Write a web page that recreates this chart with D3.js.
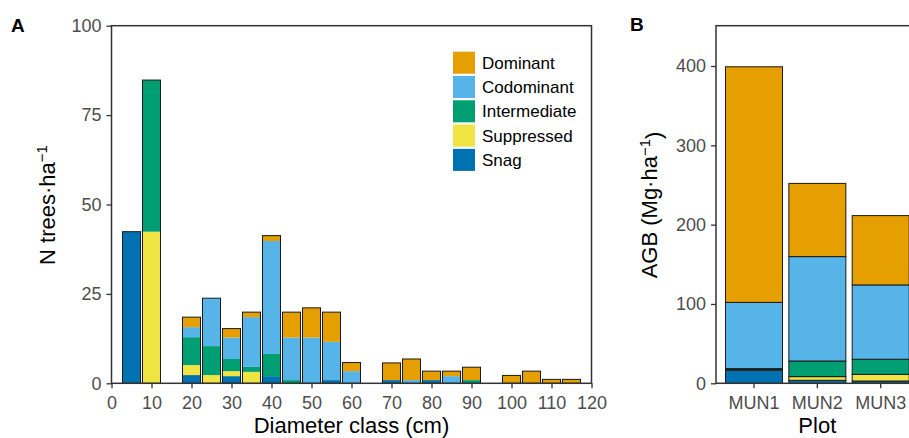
<!DOCTYPE html>
<html>
<head>
<meta charset="utf-8">
<script src="https://cdn.jsdelivr.net/npm/d3@7"></script>
<style>
  body { margin: 0; background: #fff; }
  text { font-family: "Liberation Sans", Arial, Helvetica, sans-serif; }
</style>
</head>
<body>
<div id="chart"></div>
<script>
// canopy classes, drawn bottom to top
var classes = ["Snag", "Suppressed", "Intermediate", "Codominant", "Dominant"];
var colors = ["#0072B2", "#F0E442", "#009E73", "#56B4E9", "#E69F00"];

// panel A: trees per ha by diameter class (cm)
var diam = [5, 10, 20, 25, 30, 35, 40, 45, 50, 55, 60, 70, 75, 80, 85, 90, 100, 105, 110, 115];
var snag = [42.4, 0, 2.3, 0, 2.0, 0, 2.0, 0, 0, 0.9, 0, 0.9, 0, 0.9, 0, 0, 0, 0, 0, 0];
var suppressed = [0, 42.4, 2.8, 2.3, 1.4, 3.2, 0, 0, 0, 0, 0, 0, 0, 0, 0, 0, 0, 0, 0, 0];
var intermediate = [0, 42.4, 7.8, 8.1, 3.4, 1.4, 6.2, 0.9, 0, 0, 0, 0, 0, 0, 0, 0.9, 0, 0, 0, 0];
var codominant = [0, 0, 2.8, 13.4, 6.0, 13.9, 31.6, 11.9, 12.8, 10.7, 3.4, 0, 0.9, 0, 2.0, 0, 0, 0, 0, 0];
var dominant = [0, 0, 2.8, 0, 2.5, 1.4, 1.5, 7.1, 8.3, 8.3, 2.4, 4.8, 5.9, 2.5, 1.4, 3.6, 2.2, 3.4, 1.1, 1.1];
var xTicksA = [0, 10, 20, 30, 40, 50, 60, 70, 80, 90, 100, 110, 120];
var yTicksA = [0, 25, 50, 75, 100];

// panel B: AGB (Mg/ha) per plot
var plots = ["MUN1", "MUN2", "MUN3"];
var agbSnag = [16.5, 3.8, 2.9];
var agbSuppressed = [0.6, 4.6, 8.4];
var agbIntermediate = [1.4, 19.7, 19.0];
var agbCodominant = [83.5, 131.6, 93.7];
var agbDominant = [297, 92.3, 87.4];
var yTicksB = [0, 100, 200, 300, 400];

var seriesA = [snag, suppressed, intermediate, codominant, dominant];
var seriesB = [agbSnag, agbSuppressed, agbIntermediate, agbCodominant, agbDominant];

var W = 909, H = 438;
var svg = d3.select("#chart").append("svg").attr("width", W).attr("height", H);

var panelTop = 25.7, panelBottom = 383.3;
var tickCol = "#333333", labCol = "#4D4D4D";

function styleAxis(g) {
  g.select(".domain").remove();
  g.selectAll(".tick line").attr("stroke", tickCol).attr("stroke-width", 1.3);
  g.selectAll(".tick text").attr("fill", labCol).style("font-size", "18px");
}

// ---------- panel A ----------
var xA = d3.scaleLinear().domain([0, 120]).range([111.5, 591.5]);
var yA = d3.scaleLinear().domain([0, 100]).range([panelBottom, panelTop]);
var rowsA = diam.map(function(d, i) {
  var r = {d: d};
  classes.forEach(function(c, k) { r[c] = seriesA[k][i]; });
  return r;
});
var stackA = d3.stack().keys(classes)(rowsA);
var bw = 4.5;

var gA = svg.append("g");
stackA.forEach(function(layer, k) {
  gA.selectAll(null).data(layer).enter().append("rect")
    .attr("x", function(d) { return xA(d.data.d - bw / 2); })
    .attr("width", xA(bw) - xA(0))
    .attr("y", function(d) { return yA(d[1]); })
    .attr("height", function(d) { return yA(d[0]) - yA(d[1]); })
    .attr("fill", colors[k]);
});
// outline round each whole bar
gA.selectAll(null).data(stackA[stackA.length - 1]).enter().append("rect")
  .attr("x", function(d) { return xA(d.data.d - bw / 2); })
  .attr("width", xA(bw) - xA(0))
  .attr("y", function(d) { return yA(d[1]); })
  .attr("height", function(d) { return yA(0) - yA(d[1]); })
  .attr("fill", "none").attr("stroke", "#1a1a1a").attr("stroke-width", 1);

svg.append("rect").attr("x", xA(0)).attr("y", panelTop)
  .attr("width", xA(120) - xA(0)).attr("height", panelBottom - panelTop)
  .attr("fill", "none").attr("stroke", tickCol).attr("stroke-width", 1.5);

svg.append("g").attr("transform", "translate(0," + panelBottom + ")")
  .call(d3.axisBottom(xA).tickValues(xTicksA).tickSize(5).tickPadding(8))
  .call(styleAxis);
svg.append("g").attr("transform", "translate(" + xA(0) + ",0)")
  .call(d3.axisLeft(yA).tickValues(yTicksA).tickSize(5).tickPadding(5))
  .call(styleAxis);

svg.append("text").attr("x", xA(60)).attr("y", 433).attr("text-anchor", "middle")
  .style("font-size", "22px").text("Diameter class (cm)");
var tA = svg.append("text").attr("transform", "translate(54.5,205) rotate(-90)")
  .attr("text-anchor", "middle").style("font-size", "22px");
tA.append("tspan").text("N trees\u00B7ha");
tA.append("tspan").attr("dy", "-0.5em").style("font-size", "15px").text("\u22121");
svg.append("text").attr("x", 11).attr("y", 31.5).style("font-size", "19px")
  .style("font-weight", "bold").text("A");

// legend
var legend = svg.append("g").attr("transform", "translate(453,51.7)");
var legOrder = classes.slice().reverse();
legOrder.forEach(function(c, i) {
  legend.append("rect").attr("x", 0).attr("y", i * 24.3).attr("width", 22).attr("height", 22)
    .attr("fill", colors[classes.indexOf(c)]);
  legend.append("text").attr("x", 29).attr("y", i * 24.3 + 11).attr("dy", "0.35em")
    .style("font-size", "17px").text(c);
});

// ---------- panel B ----------
var xB = d3.scaleBand().domain(plots).range([716, 918.7]).paddingInner(0.1).paddingOuter(0.15);
var yB = d3.scaleLinear().domain([0, 450.8]).range([panelBottom, panelTop]);
var rowsB = plots.map(function(p, i) {
  var r = {p: p};
  classes.forEach(function(c, k) { r[c] = seriesB[k][i]; });
  return r;
});
var stackB = d3.stack().keys(classes)(rowsB);
var gB = svg.append("g");
stackB.forEach(function(layer, k) {
  gB.selectAll(null).data(layer).enter().append("rect")
    .attr("x", function(d) { return xB(d.data.p); })
    .attr("width", xB.bandwidth())
    .attr("y", function(d) { return yB(d[1]); })
    .attr("height", function(d) { return yB(d[0]) - yB(d[1]); })
    .attr("fill", colors[k]).attr("stroke", "#1a1a1a").attr("stroke-width", 1);
});

svg.append("rect").attr("x", 716).attr("y", panelTop)
  .attr("width", 918.7 - 716).attr("height", panelBottom - panelTop)
  .attr("fill", "none").attr("stroke", tickCol).attr("stroke-width", 1.5);

svg.append("g").attr("transform", "translate(0," + panelBottom + ")")
  .call(d3.axisBottom(xB).tickSize(5).tickPadding(8))
  .call(styleAxis);
svg.append("g").attr("transform", "translate(716,0)")
  .call(d3.axisLeft(yB).tickValues(yTicksB).tickSize(5).tickPadding(5))
  .call(styleAxis);

svg.append("text").attr("x", 817.3).attr("y", 433).attr("text-anchor", "middle")
  .style("font-size", "22px").text("Plot");
var tB = svg.append("text").attr("transform", "translate(657,205) rotate(-90)")
  .attr("text-anchor", "middle").style("font-size", "22px");
tB.append("tspan").text("AGB (Mg\u00B7ha");
tB.append("tspan").attr("dy", "-0.5em").style("font-size", "15px").text("\u22121");
tB.append("tspan").attr("dy", "0.5em").text(")");
svg.append("text").attr("x", 630).attr("y", 31).style("font-size", "19px")
  .style("font-weight", "bold").text("B");
</script>
</body>
</html>
